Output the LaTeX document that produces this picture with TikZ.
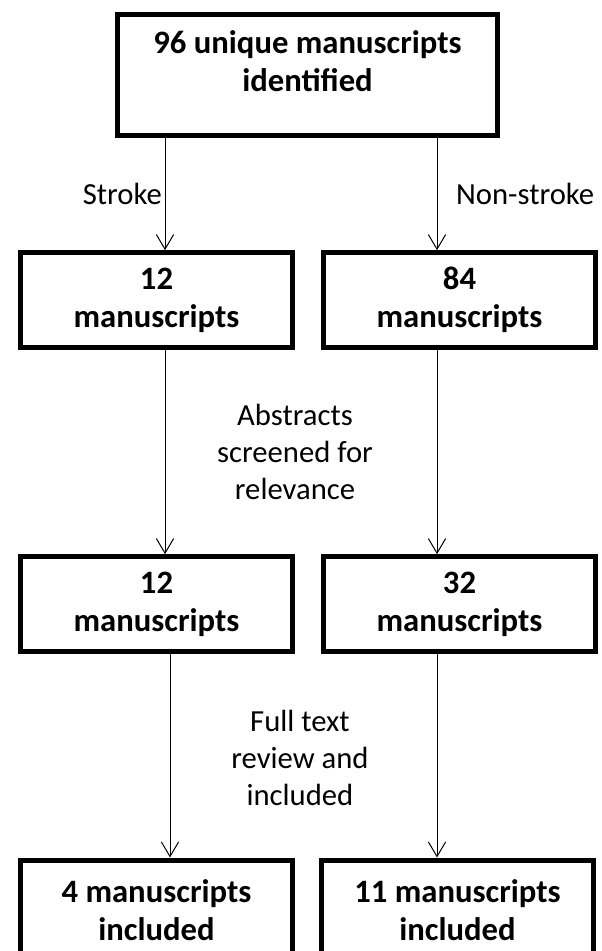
\documentclass[tikz,border=0pt]{standalone}
\usepackage{fontspec}
\setmainfont{Carlito}
\usetikzlibrary{positioning, arrows.meta}

\begin{document}
\begin{tikzpicture}[
    x=0.75pt, y=-0.75pt,
    font=\fontsize{23}{28}\selectfont,
    box/.style={rectangle, draw, line width=3.75pt, minimum width=204pt, minimum height=71pt, align=center, font=\fontsize{24.5}{28.5}\selectfont\bfseries},
    arrow/.style={-{Straight Barb[length=11pt, width=13pt]}, line width=0.75pt},
    note/.style={align=center}
]
\clip (0,0) rectangle (602,951);

% Boxes
\node[box, minimum width=285pt, minimum height=91pt, text depth=21pt] (all) at (307.5,75) {96 unique manuscripts\\identified};
\node[box] (s1) at (156.5,300) {12\\manuscripts};
\node[box] (n1) at (459.5,300) {84\\manuscripts};
\node[box] (s2) at (156.5,604) {12\\manuscripts};
\node[box] (n2) at (459.5,604) {32\\manuscripts};
\node[box, minimum height=75pt] (s3) at (156.5,910) {4 manuscripts\\included};
\node[box, minimum height=75pt] (n3) at (457.5,910) {11 manuscripts\\included};

% Columns of the arrows
\coordinate (lcol) at (165,0);
\coordinate (lcolb) at (170,0);
\coordinate (rcol) at (437,0);

% Arrows
\draw[arrow] (lcol |- all.south) -- node[midway, left, inner xsep=2pt] {Stroke} (lcol |- s1.north);
\draw[arrow] (rcol |- all.south) -- node[midway, right, inner xsep=14pt] {Non-stroke} (rcol |- n1.north);
\draw[arrow] (lcol |- s1.south) -- (lcol |- s2.north);
\draw[arrow] (rcol |- n1.south) -- (rcol |- n2.north);
\draw[arrow] (lcolb |- s2.south) -- (lcolb |- s3.north);
\draw[arrow] (rcol |- n2.south) -- (rcol |- n3.north);

% Labels
\node[note] (screen) at (295,452) {Abstracts\\screened for\\relevance};
\node[note] (fulltext) at (300,758) {Full text\\review and\\included};

\end{tikzpicture}
\end{document}
